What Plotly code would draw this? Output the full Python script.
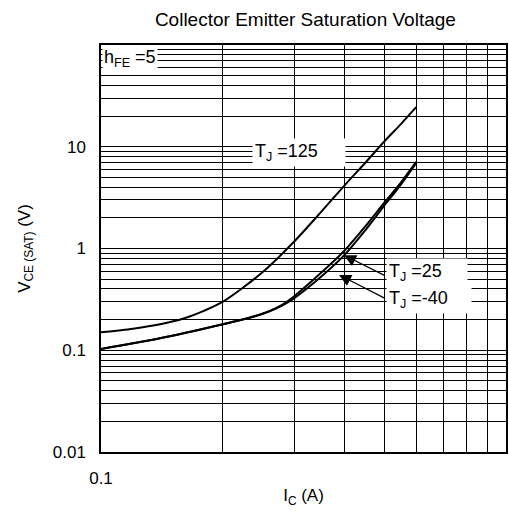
import math
import plotly.graph_objects as go

# ---- data ----
ic_125 = [0.1, 0.12, 0.14, 0.16, 0.18, 0.2, 0.25, 0.3, 0.35, 0.4, 0.45, 0.5, 0.55, 0.6]
v_125 = [0.15, 0.163, 0.18, 0.205, 0.245, 0.30, 0.58, 1.17, 2.3, 4.2, 7.0, 11.2, 16.7, 24.5]

ic_low = [0.1, 0.12, 0.15, 0.2, 0.22, 0.24, 0.26, 0.28, 0.3, 0.35, 0.4, 0.45, 0.5, 0.55, 0.6]
v_25 = [0.103, 0.117, 0.139, 0.18, 0.197, 0.216, 0.24, 0.274, 0.325, 0.53, 0.87, 1.52, 2.62, 4.25, 6.9]
v_m40 = [0.103, 0.117, 0.139, 0.18, 0.197, 0.217, 0.242, 0.28, 0.34, 0.58, 0.96, 1.66, 2.8, 4.45, 7.1]

x_decades = [0.1]
y_decades = [0.01, 0.1, 1, 10]
x_tick_labels = {0.1: "0.1"}
y_tick_labels = {0.01: "0.01", 0.1: "0.1", 1: "1", 10: "10"}

FONT = "Liberation Sans, Arial, sans-serif"

# grid positions (1..9 per decade)
x_tickvals, x_ticktext = [], []
for d in x_decades:
    for m in range(1, 10):
        v = round(d * m, 6)
        x_tickvals.append(v)
        x_ticktext.append(x_tick_labels.get(v, "") if m == 1 else "")
x_tickvals.append(1.0)
x_ticktext.append("")

y_tickvals, y_ticktext = [], []
for d in y_decades:
    for m in range(1, 10):
        v = round(d * m, 6)
        y_tickvals.append(v)
        y_ticktext.append(y_tick_labels.get(d, "") if m == 1 else "")
y_tickvals.append(100)
y_ticktext.append("")

fig = go.Figure()
line = dict(color="black", width=2, shape="spline", smoothing=0.8)
fig.add_trace(go.Scatter(x=ic_125, y=v_125, mode="lines", line=line, name="TJ=125"))
fig.add_trace(go.Scatter(x=ic_low, y=v_25, mode="lines", line=line, name="TJ=25"))
fig.add_trace(go.Scatter(x=ic_low, y=v_m40, mode="lines", line=line, name="TJ=-40"))

L = math.log10
ann_font = dict(family=FONT, size=18, color="black")
annotations = [
    dict(x=L(0.1008), y=L(74), xref="x", yref="y", text="h<sub>FE</sub> =5",
         showarrow=False, xanchor="left", yanchor="middle", bgcolor="white",
         borderpad=1, font=ann_font),
    dict(x=L(0.236), y=L(8.8), xref="x", yref="y", text="T<sub>J</sub> =125",
         showarrow=False, xanchor="left", yanchor="middle", bgcolor="white",
         borderpad=2, width=88, align="left", font=ann_font),
    dict(x=L(0.505), y=L(0.58), xref="x", yref="y", text="T<sub>J</sub> =25",
         showarrow=False, xanchor="left", yanchor="middle", bgcolor="white",
         borderpad=2, width=76, align="left", font=ann_font),
    dict(x=L(0.505), y=L(0.315), xref="x", yref="y", text="T<sub>J</sub> =-40",
         showarrow=False, xanchor="left", yanchor="middle", bgcolor="white",
         borderpad=2, width=80, align="left", font=ann_font),
    dict(x=L(0.398), y=L(0.86), xref="x", yref="y", text="", showarrow=True,
         ax=42, ay=21, arrowhead=2, arrowsize=2.0, arrowwidth=1.2, arrowcolor="black"),
    dict(x=L(0.387), y=L(0.55), xref="x", yref="y", text="", showarrow=True,
         ax=47, ay=24, arrowhead=2, arrowsize=2.0, arrowwidth=1.2, arrowcolor="black"),
]

fig.update_layout(
    width=509, height=514,
    margin=dict(l=101, r=1, t=45, b=62),
    paper_bgcolor="white", plot_bgcolor="white",
    showlegend=False,
    font=dict(family=FONT, color="black", size=17),
    title=dict(text="Collector Emitter Saturation Voltage", x=0.6, xanchor="center",
               y=0.962, yanchor="middle", font=dict(family=FONT, size=19, color="black")),
    annotations=annotations,
)
fig.update_xaxes(
    type="log", range=[-1, 0], tickvals=x_tickvals, ticktext=x_ticktext,
    showgrid=True, gridcolor="black", gridwidth=1, zeroline=False,
    showline=True, mirror=True, linecolor="black", linewidth=1.5,
    ticks="", ticklabelstandoff=10, tickfont=dict(size=17),
    title=dict(text="I<sub>C</sub> (A)", font=dict(size=17), standoff=2),
)
fig.update_yaxes(
    type="log", range=[-2, 2], tickvals=y_tickvals, ticktext=y_ticktext,
    showgrid=True, gridcolor="black", gridwidth=1, zeroline=False,
    showline=True, mirror=True, linecolor="black", linewidth=1.5,
    ticks="", ticklabelstandoff=10, tickfont=dict(size=17),
    title=dict(text="V<sub>CE (SAT)</sub> (V)", font=dict(size=17), standoff=18),
)

fig.write_html("out.html")
